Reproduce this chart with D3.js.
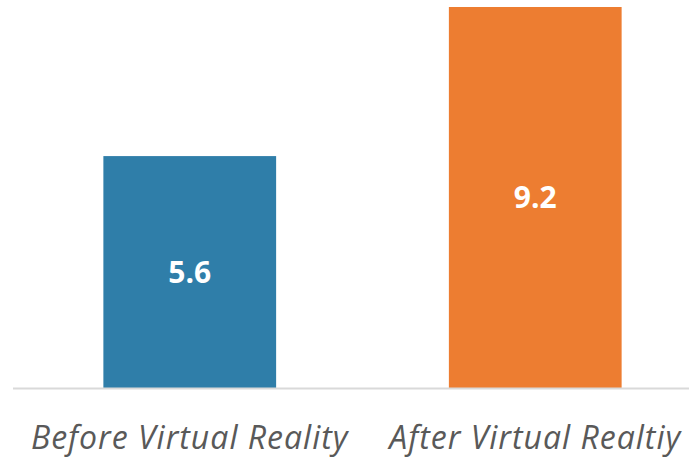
<!DOCTYPE html>
<html>
<head>
<meta charset="utf-8">
<script src="https://cdn.jsdelivr.net/npm/d3@7"></script>
<style>
  body { margin: 0; background: #fff; }
  svg { display: block; }
</style>
</head>
<body>
<div id="chart"></div>
<script>
// Chart data
var categories = ["Before Virtual Reality", "After Virtual Realtiy"];
var values = [5.6, 9.2];
var colors = ["#2f7ea9", "#ed7d31"];

var width = 689,
    height = 460;

var svg = d3.select('#chart')
            .append('svg')
            .attr('width', width)
            .attr('height', height);

var x = d3.scaleBand()
          .domain(categories)
          .range([17, 708])
          .paddingInner(0.5)
          .paddingOuter(0.25);

var y = d3.scaleLinear()
          .domain([0, 9.2])
          .range([388, 7]);

// Bars
svg.selectAll('.bar')
   .data(values)
   .enter().append('rect')
   .attr('class', 'bar')
   .attr('x', function(d, i) { return x(categories[i]); })
   .attr('y', function(d) { return y(d); })
   .attr('width', x.bandwidth())
   .attr('height', function(d) { return y(0) - y(d); })
   .attr('fill', function(d, i) { return colors[i]; });

// Value labels in the middle of each bar
svg.selectAll('.value')
   .data(values)
   .enter().append('text')
   .attr('class', 'value')
   .attr('x', function(d, i) { return x(categories[i]) + x.bandwidth() / 2; })
   .attr('y', function(d) { return (y(d) + y(0)) / 2; })
   .attr('dy', '0.36em')
   .attr('text-anchor', 'middle')
   .style('font-family', '"Open Sans", sans-serif')
   .style('font-weight', 'bold')
   .style('font-size', '30px')
   .style('fill', '#fff')
   .text(function(d) { return d.toFixed(1); });

// x-axis
var x_axis = d3.axisBottom(x)
               .tickSize(0)
               .tickPadding(38);

var gx = svg.append('g')
            .attr('transform', 'translate(0,' + y(0) + ')')
            .call(x_axis);

gx.select('.domain')
  .attr('d', 'M13,0.5H' + width)
  .attr('stroke', '#d9d9d9')
  .attr('stroke-width', 2);

gx.selectAll('text')
  .style('font-family', '"Open Sans", sans-serif')
  .style('font-style', 'italic')
  .style('font-size', '32px')
  .style('letter-spacing', '1px')
  .style('fill', '#595959');
</script>
</body>
</html>
